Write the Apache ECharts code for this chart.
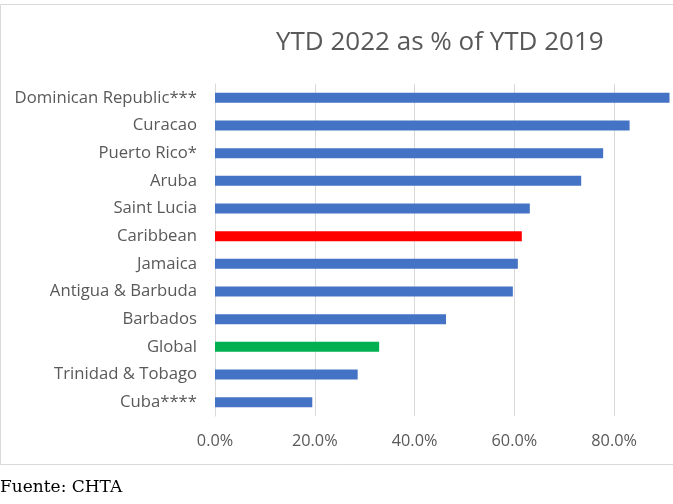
<!DOCTYPE html>
<html>
<head>
<meta charset="utf-8">
<script src="https://cdn.jsdelivr.net/npm/echarts@6/dist/echarts.min.js"></script>
<style>
  html, body { margin: 0; padding: 0; background: #fff; }
  #chart { width: 673px; height: 504px; }
</style>
</head>
<body>
<div id="chart"></div>
<script>
// categories top to bottom (% of YTD 2019)
var countries = ['Dominican Republic***', 'Curacao', 'Puerto Rico*', 'Aruba', 'Saint Lucia', 'Caribbean',
    'Jamaica', 'Antigua & Barbuda', 'Barbados', 'Global', 'Trinidad & Tobago', 'Cuba****'];
var ytdShare = [91.1, 83.1, 77.8, 73.4, 63.1, 61.5, 60.7, 59.7, 46.3, 32.9, 28.6, 19.5];
var xTicks = [0, 20, 40, 60, 80];

var blue = '#4472C4';
var highlight = { 'Caribbean': '#FF0000', 'Global': '#00B050' };

var chart = echarts.init(document.getElementById('chart'));

var option = {
    animation: false,
    title: {
        text: 'YTD 2022 as % of YTD 2019',
        left: 271,
        top: 25,
        textStyle: {
            fontFamily: 'Open Sans',
            fontSize: 26,
            fontWeight: 'normal',
            color: '#595959'
        }
    },
    grid: {
        left: 215,
        right: 1,
        top: 84,
        bottom: 88
    },
    xAxis: {
        type: 'value',
        min: 0,
        max: 91.2,
        interval: 20,
        axisLine: { show: false },
        axisTick: { show: false },
        splitLine: {
            show: true,
            showMaxLine: false,
            lineStyle: { color: '#D9D9D9', width: 1 }
        },
        axisLabel: {
            margin: 17,
            fontFamily: 'Open Sans',
            fontSize: 16.3,
            color: '#595959',
            formatter: function (v) {
                return xTicks.indexOf(v) >= 0 ? v.toFixed(1) + '%' : '';
            }
        }
    },
    yAxis: {
        type: 'category',
        inverse: true,
        data: countries,
        axisLine: { show: true, lineStyle: { color: '#D9D9D9' } },
        axisTick: { show: false },
        axisLabel: {
            margin: 18,
            fontFamily: 'Open Sans',
            fontSize: 16.7,
            color: '#595959'
        }
    },
    series: [
        {
            type: 'bar',
            barWidth: 10,
            data: ytdShare.map(function (v, i) {
                return {
                    value: v,
                    itemStyle: { color: highlight[countries[i]] || blue }
                };
            })
        }
    ],
    graphic: [
        {
            type: 'rect',
            shape: { x: 0.5, y: 4.5, width: 700, height: 460 },
            style: { fill: 'none', stroke: '#D9D9D9', lineWidth: 1 },
            silent: true,
            z: -1
        },
        {
            type: 'text',
            left: 0,
            top: 479,
            style: {
                text: 'Fuente: CHTA',
                font: '17px "DejaVu Serif"',
                fill: '#000'
            }
        }
    ]
};

chart.setOption(option);
</script>
</body>
</html>
